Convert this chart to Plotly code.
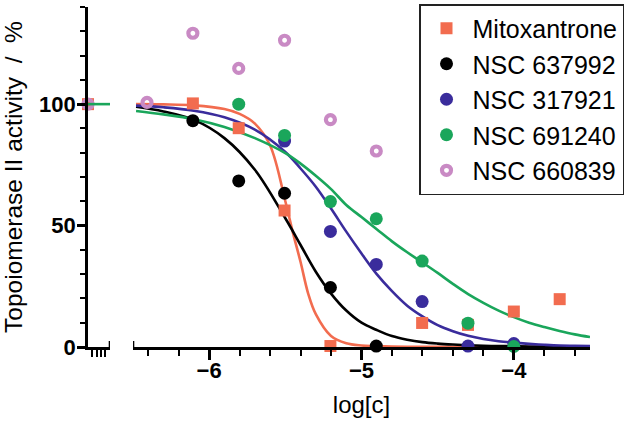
import plotly.graph_objects as go

# ---------------- data ----------------
log_conc = [-6.408, -6.107, -5.806, -5.505, -5.204, -4.903, -4.602, -4.301, -4.000, -3.699]

names = ["Mitoxantrone", "NSC 637992", "NSC 317921", "NSC 691240", "NSC 660839"]
colors = ["#F26C4F", "#000000", "#3A2C9C", "#1AA65B", "#C98AC4"]

mitoxantrone = [None, 100.3, 90.1, 56.2, 0.4, None, 9.9, 9.1, 14.6, 19.7]
nsc637992 = [None, 93.2, 68.4, 63.3, 24.5, 0.4, None, None, None, None]
nsc317921 = [None, None, None, 84.8, 47.6, 34.0, 18.7, 0.4, 1.4, None]
nsc691240 = [None, None, 100.0, 87.1, 59.9, 52.8, 35.4, 9.8, 0.2, None]
nsc660839 = [100.7, 129.2, 114.7, 126.3, 93.6, 80.7, None, None, None, None]

control_value = 100.0  # untreated control (left axis segment)

# fitted curves, values
curve_x_mito = [-6.48, -6.3, -6.1, -5.9, -5.8, -5.7, -5.6, -5.5, -5.45, -5.4, -5.35, -5.3,
                -5.2, -5.1, -5.0, -4.8, -4.5, -4.0, -3.5]
curve_mito = [100, 99.9, 99.5, 98, 96, 92, 83, 60, 47, 35, 22, 13.5,
              4.5, 1.5, 0.6, 0.2, 0.05, 0.0, 0.0]

curve_x = [-6.48, -6.3, -6.1, -5.9, -5.7, -5.5, -5.4, -5.3, -5.2, -5.1, -5.0, -4.9, -4.8,
           -4.7, -4.6, -4.5, -4.4, -4.3, -4.2, -4.1, -4.0, -3.9, -3.8, -3.7, -3.6, -3.5]
curve_637992 = [98.9, 97, 93.5, 86, 73, 53, 42, 31, 22, 15, 10, 7, 4.5,
                3, 2, 1.4, 1, 0.7, 0.5, 0.4, 0.3, 0.2, 0.15, 0.1, 0.1, 0.1]
curve_317921 = [99.4, 98.7, 97.3, 94.6, 89.5, 80.3, 73.5, 66, 57, 47.5, 38.5, 30, 23,
                17, 12.6, 9, 6.5, 4.6, 3.3, 2.4, 1.8, 1.3, 0.9, 0.6, 0.5, 0.4]
curve_691240 = [97.2, 95.8, 93.8, 90.6, 86, 79.8, 75.5, 70.5, 65, 58.5, 53.5, 48.5, 43.5,
                39, 34.8, 30.5, 26, 21.8, 18.2, 15, 12.3, 10, 8.2, 6.6, 5.2, 4.1]

seg_ticks = [0.17, 0.40, 0.58, 0.77]
seg_line_x = [0.0, 1.0]

series = [mitoxantrone, nsc637992, nsc317921, nsc691240, nsc660839]
curves = [(curve_x_mito, curve_mito), (curve_x, curve_637992), (curve_x, curve_317921),
          (curve_x, curve_691240), None]

# ---------------- figure ----------------
FONT = "Liberation Sans, Arial, sans-serif"
fig = go.Figure()

# curves
for i, c in enumerate(curves):
    if c is None:
        continue
    fig.add_trace(go.Scatter(x=c[0], y=c[1], mode="lines", line=dict(color=colors[i], width=2.6, shape="spline"),
                             xaxis="x2", yaxis="y", showlegend=False, hoverinfo="skip"))

# points
symbols = ["square", "circle", "circle", "circle", "circle-open"]
sizes = [12, 13, 13, 13, 9]
for i, vals in enumerate(series):
    marker = dict(color=colors[i], size=sizes[i], symbol=symbols[i])
    if symbols[i] == "circle-open":
        marker["line"] = dict(color=colors[i], width=4.2)
    else:
        marker["line"] = dict(width=0)
    fig.add_trace(go.Scatter(x=log_conc, y=vals, mode="markers", marker=marker, name=names[i],
                             legendgroup=names[i], xaxis="x2", yaxis="y", cliponaxis=False))

# control segment
fig.add_trace(go.Scatter(x=[0], y=[control_value], mode="markers",
                         marker=dict(color=colors[0], size=12, symbol="square", line=dict(width=0)),
                         xaxis="x", yaxis="y", showlegend=False, cliponaxis=False))
fig.add_trace(go.Scatter(x=[0], y=[control_value], mode="markers",
                         marker=dict(color=colors[4], size=9, symbol="circle-open", line=dict(color=colors[4], width=4.2)),
                         xaxis="x", yaxis="y", showlegend=False, cliponaxis=False))
fig.add_trace(go.Scatter(x=seg_line_x, y=[control_value, control_value], mode="lines",
                         line=dict(color=colors[3], width=2.6), xaxis="x", yaxis="y",
                         showlegend=False, cliponaxis=False))

# axis end bars
fig.add_shape(type="line", xref="x2", yref="y", x0=-6.5, x1=-6.5, ysizemode="pixel", yanchor=0,
              y0=-6, y1=6, line=dict(color="black", width=2.6))
fig.add_shape(type="line", xref="x", yref="y", x0=1, x1=1, ysizemode="pixel", yanchor=0,
              y0=-6, y1=6, line=dict(color="black", width=2.6))

d1 = 22 / 502
d2 = 45 / 502
fig.update_layout(
    width=630, height=423,
    margin=dict(l=88, r=40, t=4, b=76),
    paper_bgcolor="white", plot_bgcolor="white",
    font=dict(family=FONT, color="black"),
    xaxis=dict(domain=[0, d1], range=[0, 1], showline=True, linewidth=2.6, linecolor="black",
               ticks="outside", tickvals=seg_ticks, ticklen=7, tickwidth=2, tickcolor="black",
               showticklabels=False, showgrid=False, zeroline=False, anchor="y"),
    xaxis2=dict(domain=[d2, 1], range=[-6.5, -3.5], showline=True, linewidth=2.6, linecolor="black",
                ticks="outside", tick0=-6, dtick=1, ticklen=10, tickwidth=2.6, tickcolor="black",
                minor=dict(dtick=0.2, tick0=-6, ticklen=6, tickwidth=2.4, tickcolor="black", ticks="outside"),
                tickfont=dict(size=22, family=FONT, weight="bold"), ticklabelstandoff=-8,
                title=dict(text="log[c]", font=dict(size=24, family=FONT), standoff=14),
                showgrid=False, zeroline=False, anchor="y"),
    yaxis=dict(range=[0, 140], showline=True, linewidth=2.6, linecolor="black", anchor="x",
               ticks="outside", tickvals=[0, 50, 100], ticklen=8, tickwidth=2.6, tickcolor="black",
               minor=dict(dtick=10, ticklen=5, tickwidth=2.2, tickcolor="black", ticks="outside"),
               tickfont=dict(size=22, family=FONT, weight="bold"), ticklabelstandoff=-3,
               title=dict(text="Topoiomerase II activity  /  %", font=dict(size=24.5, family=FONT), standoff=14),
               showgrid=False, zeroline=False),
    legend=dict(x=(419 - 88) / 502, y=1 + 3 / 343, xanchor="left", yanchor="top",
                bordercolor="#222222", borderwidth=1.5, bgcolor="white",
                font=dict(size=25, family=FONT), tracegroupgap=0, itemwidth=42),
)

fig.write_html("out.html", post_script="document.body.style.margin='0';",
               config={"displayModeBar": False})
